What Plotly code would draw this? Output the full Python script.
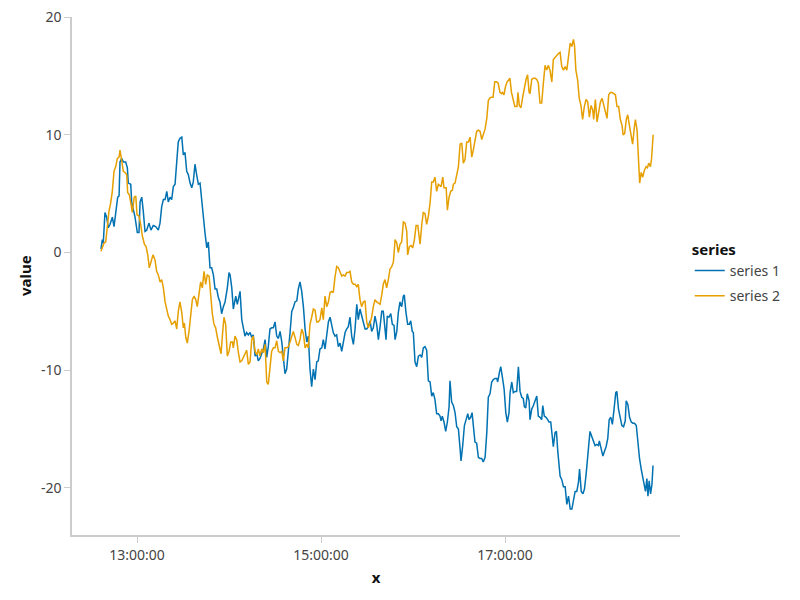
import datetime as dt
import plotly.graph_objects as go

# minutes after 13:00 and values
s1_min = [-23.5,-22.6,-22.0,-20.9,-19.8,-18.7,-17.6,-16.1,-15.0,-13.7,-12.6,-11.7,-11.1,-10.0,-8.9,-7.4,-6.3,-5.7,-4.1,-3.5,-2.4,-1.3,0.2,1.3,2.0,3.1,4.1,5.2,6.3,7.8,9.1,10.6,12.2,13.9,15.0,16.1,17.2,18.3,19.4,20.4,21.5,22.6,23.7,24.8,25.9,26.9,28.0,29.2,30.2,31.3,32.4,33.5,34.6,35.7,36.7,37.8,38.9,40.0,41.1,42.2,43.2,44.3,45.5,46.5,47.6,48.7,49.8,50.9,52.0,53.0,54.1,55.2,56.3,57.4,58.9,60.0,60.7,61.8,62.8,64.4,65.4,66.5,67.2,68.3,69.3,70.4,71.5,72.6,73.7,74.8,75.8,77.0,78.1,79.1,80.2,81.3,82.4,83.5,84.6,85.6,86.7,87.8,88.9,90.0,91.1,92.2,93.3,94.4,95.4,96.5,97.6,98.7,99.8,100.9,101.9,103.0,104.2,105.2,106.3,107.4,108.5,109.6,110.7,111.7,112.8,113.9,115.0,116.1,117.2,118.2,119.3,120.5,121.5,122.6,123.7,124.8,125.9,127.0,128.0,129.1,130.2,131.3,132.4,133.5,134.5,135.7,136.7,137.8,138.9,140.0,141.1,142.2,143.3,144.3,145.4,146.5,147.6,148.7,149.8,150.8,152.0,153.0,154.1,155.2,156.3,157.4,158.5,159.6,160.6,161.7,162.4,163.2,164.3,165.5,166.5,167.6,168.3,169.4,170.4,171.5,172.6,173.7,174.3,175.4,176.5,177.6,178.5,179.5,180.2,181.3,182.4,183.5,184.6,185.7,186.7,187.8,188.9,190.0,191.1,192.2,193.2,194.3,195.4,196.5,197.6,198.3,199.1,200.2,201.3,202.4,203.5,204.1,205.2,206.3,207.4,208.5,209.6,210.7,211.3,212.4,213.5,214.6,215.7,216.5,217.6,218.5,219.3,220.4,221.5,222.6,223.7,224.8,225.8,227.0,228.1,229.1,230.2,231.3,232.4,233.5,234.6,235.2,236.3,237.2,238.3,239.4,240.5,241.5,242.6,243.3,244.4,245.4,246.5,247.6,248.7,249.8,250.9,251.9,252.6,253.5,254.5,255.7,256.3,257.4,258.5,259.6,260.7,261.7,262.8,263.9,264.6,265.6,266.7,267.8,268.7,269.8,270.8,271.5,272.6,273.5,274.4,275.2,275.9,277.0,278.1,279.2,280.3,281.4,282.5,283.6,284.6,285.7,286.8,287.9,288.6,289.7,290.8,291.8,292.9,294.0,294.8,295.4,296.5,297.6,298.7,299.8,300.9,301.5,302.6,303.8,304.8,305.9,307.0,307.9,309.0,310.0,311.1,312.2,312.9,314.0,315.1,316.2,317.3,318.4,319.0,320.1,321.2,322.3,323.4,324.4,325.6,326.6,327.7,328.8,329.9,330.9,331.6,332.5,333.2,334.0,334.9,335.8,336.5]
s1_val = [0.3,1.1,0.8,3.4,3.0,2.1,2.4,3.0,2.2,3.8,4.7,4.8,7.7,8.0,7.7,7.7,7.2,5.9,5.8,4.3,3.6,3.0,1.7,1.7,4.3,4.7,3.5,1.8,1.9,2.5,1.9,2.3,2.2,1.9,2.5,3.9,4.5,4.5,5.2,4.3,4.7,4.5,5.6,5.8,7.7,9.4,9.7,9.8,8.3,8.5,6.9,6.6,5.9,5.5,6.0,7.5,6.6,5.8,5.9,4.3,3.0,1.7,0.4,0.9,-1.3,-1.3,-1.9,-3.1,-3.1,-3.8,-4.2,-5.2,-4.6,-4.2,-3.0,-1.7,-1.9,-3.0,-4.8,-3.7,-4.4,-3.8,-3.3,-5.7,-6.3,-7.1,-6.8,-7.0,-6.8,-7.2,-7.0,-8.8,-8.6,-9.2,-9.0,-8.6,-8.2,-7.4,-8.9,-8.0,-6.5,-6.4,-6.4,-5.9,-7.1,-7.3,-6.7,-7.6,-8.8,-10.3,-9.9,-8.5,-6.8,-5.0,-4.7,-4.2,-4.1,-3.1,-2.5,-3.3,-4.6,-6.5,-7.6,-7.1,-9.9,-11.4,-9.9,-10.8,-9.3,-9.2,-8.2,-8.1,-7.4,-8.2,-6.8,-5.9,-5.5,-6.3,-6.8,-7.1,-7.0,-8.0,-7.7,-8.4,-7.7,-6.8,-6.5,-6.3,-5.5,-7.1,-7.8,-6.5,-4.4,-5.7,-4.8,-5.4,-6.1,-6.5,-6.5,-6.3,-5.8,-6.7,-6.4,-5.4,-6.1,-7.4,-6.3,-5.0,-5.0,-6.5,-7.4,-5.4,-5.5,-5.2,-6.1,-6.2,-7.4,-6.7,-5.1,-4.2,-4.6,-3.7,-3.6,-5.1,-6.1,-6.1,-5.8,-6.7,-6.8,-9.3,-9.7,-8.8,-8.7,-8.9,-8.1,-8.0,-8.3,-10.9,-11.0,-12.2,-11.9,-12.5,-13.7,-13.7,-13.9,-14.3,-13.9,-14.4,-15.2,-14.4,-13.1,-10.9,-12.7,-13.0,-13.6,-14.8,-15.0,-16.7,-17.7,-16.4,-14.7,-14.2,-13.7,-14.2,-14.0,-13.6,-14.7,-16.1,-16.2,-17.4,-17.5,-17.5,-17.8,-17.4,-15.3,-12.3,-12.0,-11.0,-10.8,-10.7,-10.7,-11.0,-10.2,-9.7,-10.6,-11.6,-13.6,-14.4,-13.6,-11.9,-11.0,-11.9,-11.8,-11.8,-9.7,-11.8,-12.3,-12.4,-13.1,-13.2,-12.0,-12.6,-14.2,-13.3,-13.0,-12.5,-12.2,-13.9,-14.0,-14.2,-13.0,-13.9,-14.0,-14.2,-14.4,-14.4,-15.6,-16.5,-15.3,-15.2,-16.9,-17.8,-19.0,-19.3,-19.9,-19.9,-21.4,-20.7,-21.8,-21.8,-20.9,-20.3,-20.3,-19.5,-18.4,-20.3,-20.5,-20.1,-18.8,-17.4,-16.4,-15.2,-15.6,-16.1,-16.4,-16.3,-16.4,-16.0,-16.7,-17.3,-16.9,-16.5,-15.8,-14.2,-14.0,-14.6,-13.3,-11.9,-11.8,-13.3,-14.0,-14.7,-14.8,-14.3,-12.6,-12.9,-14.0,-14.4,-14.5,-14.5,-14.7,-16.1,-17.5,-18.4,-19.1,-19.7,-20.3,-19.2,-20.7,-19.4,-20.5,-19.7,-18.1]

s2_min = [-23.5,-22.6,-21.5,-20.4,-19.4,-18.3,-17.2,-16.1,-15.0,-13.9,-12.8,-11.7,-11.1,-10.0,-8.9,-7.8,-6.7,-6.1,-5.0,-3.9,-3.1,-1.8,-0.8,0.0,1.3,2.4,3.5,4.8,5.9,7.0,8.0,9.1,10.4,11.7,12.8,13.9,15.0,16.1,17.2,18.3,19.4,20.4,21.5,22.6,23.7,24.8,25.9,26.9,28.0,29.2,30.2,30.9,31.8,32.8,33.9,35.0,36.1,37.2,38.3,39.3,40.4,41.5,42.6,43.7,44.8,45.8,47.0,48.1,49.1,50.2,51.3,52.4,53.5,54.8,55.9,56.7,57.8,58.9,60.0,61.1,62.2,62.8,63.9,65.0,66.1,67.2,68.3,69.3,70.4,71.5,72.6,73.7,74.8,75.8,77.0,78.1,79.1,80.2,81.3,82.4,83.5,84.6,85.6,86.7,87.8,88.9,90.0,91.1,92.2,93.3,94.4,95.4,96.5,97.6,98.7,99.8,100.9,101.9,103.0,104.2,105.2,106.3,107.4,108.5,109.6,110.7,111.7,112.8,113.9,115.0,116.1,117.2,118.2,119.3,120.5,121.5,122.6,123.7,124.8,125.9,127.0,128.0,129.1,130.2,131.3,132.4,133.5,134.5,135.7,136.7,137.8,138.9,140.0,141.1,142.2,143.3,144.3,145.4,146.5,147.6,148.7,149.8,150.8,152.0,153.0,154.1,155.2,156.3,157.4,158.5,159.6,160.6,161.7,162.8,163.9,165.0,166.1,167.2,168.3,169.4,170.4,171.5,172.6,173.7,174.8,175.9,176.5,177.6,178.7,179.8,180.9,182.0,183.1,184.1,184.6,185.7,186.7,187.8,188.9,190.0,191.1,192.2,193.2,194.3,195.4,196.5,197.6,198.3,199.4,200.2,201.6,202.4,203.5,204.6,205.7,206.3,207.4,208.5,209.6,210.7,211.8,212.8,213.9,215.0,216.1,217.2,218.3,219.3,220.4,221.5,222.6,223.7,224.8,225.8,227.0,228.1,229.1,230.0,231.1,232.2,233.3,234.4,235.5,236.7,237.7,238.4,239.3,240.3,241.4,243.2,244.2,245.3,246.4,247.8,248.4,249.3,250.4,251.5,252.6,253.7,254.7,255.7,256.3,257.4,258.5,259.6,260.7,261.7,262.8,263.9,265.0,266.1,267.2,268.3,269.3,270.5,271.5,272.6,273.7,274.8,275.9,277.0,278.1,279.2,280.3,281.4,282.5,283.6,284.6,285.3,286.2,287.3,288.4,289.5,290.6,291.7,292.8,293.9,295.0,296.1,297.2,297.8,298.9,300.0,301.1,302.2,303.3,304.3,305.4,306.5,307.6,308.7,309.8,310.9,312.0,313.0,314.1,315.2,316.3,317.0,318.0,319.1,320.0,321.1,322.2,323.2,324.3,325.0,326.1,327.2,327.8,328.8,329.8,330.9,332.0,332.9,333.7,334.8,335.5,336.6]
s2_val = [0.1,0.4,0.8,0.9,2.4,3.5,4.2,5.2,6.9,7.3,8.0,8.1,8.7,7.7,6.9,6.8,6.6,5.1,4.9,4.1,3.4,4.7,4.8,3.2,3.1,2.4,1.4,0.7,0.5,-0.2,-1.3,-0.8,-0.2,-0.6,-1.6,-1.9,-2.5,-2.3,-3.0,-4.2,-4.8,-5.4,-5.7,-6.1,-6.0,-5.8,-6.5,-5.0,-4.2,-5.1,-6.4,-6.0,-7.2,-7.7,-6.7,-5.4,-4.0,-3.7,-4.0,-4.6,-3.3,-2.5,-3.0,-1.6,-2.7,-1.9,-2.0,-3.8,-5.2,-6.1,-6.4,-7.2,-7.8,-8.6,-6.7,-5.5,-6.1,-8.8,-8.4,-7.6,-7.6,-8.1,-7.1,-7.4,-8.5,-9.3,-9.2,-8.9,-8.6,-8.3,-9.5,-9.3,-7.4,-7.1,-8.4,-8.7,-8.2,-8.8,-8.2,-8.5,-7.8,-11.0,-11.2,-9.9,-8.4,-8.1,-8.1,-7.5,-8.4,-8.5,-8.4,-9.2,-8.1,-8.1,-8.0,-7.6,-7.2,-6.7,-7.2,-7.8,-7.9,-7.4,-6.5,-6.9,-8.1,-7.8,-8.1,-6.1,-5.5,-4.8,-4.9,-5.9,-5.9,-5.7,-4.7,-5.7,-3.7,-4.6,-4.2,-3.4,-3.3,-3.4,-2.1,-1.2,-1.3,-1.7,-2.0,-1.9,-2.0,-1.7,-1.7,-1.6,-2.5,-2.7,-2.7,-2.9,-2.7,-4.0,-4.6,-4.2,-4.1,-5.9,-6.4,-6.0,-5.5,-4.6,-4.0,-4.2,-4.3,-4.4,-3.6,-2.7,-2.3,-3.0,-2.3,-1.4,-1.2,-0.8,1.1,0.8,0.0,0.7,0.9,2.6,2.5,1.8,-0.2,0.5,0.6,0.4,1.1,2.3,2.3,1.3,0.7,2.4,3.4,3.3,2.4,3.1,4.2,6.0,6.0,6.4,5.2,5.8,5.7,5.6,6.4,5.5,5.5,3.6,4.7,5.2,5.3,5.8,5.9,6.6,7.3,9.2,9.3,7.6,7.9,9.4,9.4,9.8,8.1,8.7,9.4,10.3,10.4,10.3,9.6,10.0,10.5,11.4,12.9,13.1,13.2,13.2,14.5,14.5,14.4,13.6,13.5,13.6,13.4,14.1,14.5,14.8,13.6,13.0,12.4,12.4,13.6,12.5,12.3,13.2,14.1,14.7,15.1,13.6,13.5,14.7,14.8,14.8,14.7,14.4,12.7,12.7,14.4,15.9,15.5,15.9,15.5,14.5,16.4,16.6,16.7,16.9,17.0,15.8,15.5,15.8,15.5,16.5,17.8,17.5,18.1,17.6,15.5,14.7,13.1,12.5,11.3,12.4,13.0,12.8,11.5,12.5,12.1,11.3,13.0,11.1,11.9,12.8,13.1,12.6,11.9,11.4,13.4,13.6,13.6,13.5,13.4,12.4,12.4,11.3,10.8,10.0,10.1,11.3,11.7,10.8,9.8,9.2,10.6,11.3,10.4,7.6,5.9,6.8,6.4,7.0,7.3,7.2,7.6,7.3,7.9,10.0]

series_names = ["series 1", "series 2"]
colors = ["#0072B2", "#E69F00"]
x_ticks = ["13:00:00", "15:00:00", "17:00:00"]
y_ticks = [-20, -10, 0, 10, 20]

base = dt.datetime(2024, 1, 1, 13, 0, 0)


def to_time(mins):
    return [base + dt.timedelta(minutes=m) for m in mins]


FONT = "Noto Sans"
fig = go.Figure()
for name, mins, vals, col in zip(series_names, [s1_min, s2_min], [s1_val, s2_val], colors):
    fig.add_trace(go.Scatter(x=to_time(mins), y=vals, mode="lines", name=name,
                             legendgroup=name,
                             line=dict(color=col, width=1.5)))

tickvals = [dt.datetime(2024, 1, 1, int(t[:2]), 0, 0) for t in x_ticks]

# page body has an 8px margin, so the figure is 792x592 and offset by 8px
fig.update_layout(
    width=792, height=592,
    margin=dict(l=64, r=120, t=9, b=65, autoexpand=False),
    plot_bgcolor="white", paper_bgcolor="white",
    font=dict(family=FONT, size=14, color="#444"),
    legend=dict(title=dict(text="<b>series</b>", font=dict(size=15, color="#111")),
                x=1.016, xanchor="left", y=0.505, yanchor="middle",
                font=dict(size=14, color="#444"), itemwidth=30, tracegroupgap=4),
    xaxis=dict(type="date", automargin=False,
               range=[base - dt.timedelta(minutes=42.4), base + dt.timedelta(minutes=354.1)],
               tickvals=tickvals, ticktext=x_ticks,
               showgrid=False, zeroline=False, showline=True, linecolor="#cccccc", linewidth=1.5,
               ticks="outside", ticklen=6, tickcolor="#cccccc", tickwidth=1,
               title=dict(text="<b>x</b>", font=dict(size=15, color="#111"), standoff=10)),
    yaxis=dict(range=[-24, 20.01], tickvals=y_ticks, ticktext=[str(v) for v in y_ticks],
               automargin=False, ticklabeloverflow="allow",
               showgrid=False, zeroline=False, showline=True, linecolor="#cccccc", linewidth=1.5,
               ticks="outside", ticklen=6, tickcolor="#cccccc", tickwidth=1),
    annotations=[dict(text="<b>value</b>", textangle=-90, xref="paper", yref="paper",
                      x=-0.0773, y=0.5, xanchor="center", yanchor="middle", showarrow=False,
                      font=dict(size=15, color="#111"))],
)

fig.write_html("out.html")
